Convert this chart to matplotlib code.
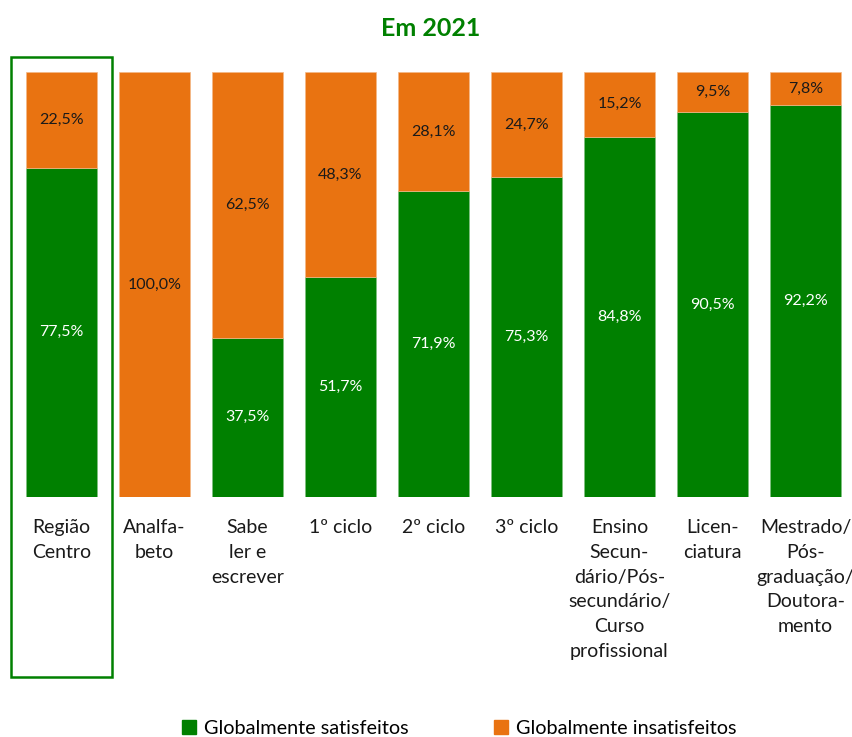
import matplotlib.pyplot as plt
from matplotlib.patches import Rectangle, Patch

plt.rcParams['font.family'] = ['Lato', 'DejaVu Sans']

categorias = ['Região\nCentro', 'Analfa-\nbeto', 'Sabe\nler e\nescrever', '1º ciclo', '2º ciclo',
              '3º ciclo', 'Ensino\nSecun-\ndário/Pós-\nsecundário/\nCurso\nprofissional',
              'Licen-\nciatura', 'Mestrado/\nPós-\ngraduação/\nDoutora-\nmento']
satisfeitos = [77.5, 0.0, 37.5, 51.7, 71.9, 75.3, 84.8, 90.5, 92.2]
insatisfeitos = [22.5, 100.0, 62.5, 48.3, 28.1, 24.7, 15.2, 9.5, 7.8]

verde = '#008000'
laranja = '#E97311'

fig = plt.figure(figsize=(8.53, 7.37), dpi=100)
ax = fig.add_axes([15 / 853, (737 - 497) / 737, 837 / 853, 425 / 737])

x = list(range(len(categorias)))
ax.bar(x, satisfeitos, width=0.76, color=verde, edgecolor='#7fbf7f', linewidth=0.5)
ax.bar(x, insatisfeitos, width=0.76, bottom=satisfeitos, color=laranja,
       edgecolor='#f4b888', linewidth=0.5)

def fmt(v):
    return f'{v:.1f}%'.replace('.', ',')

for i in x:
    if satisfeitos[i] > 0:
        ax.text(i, satisfeitos[i] / 2, fmt(satisfeitos[i]), ha='center', va='center',
                color='white', fontsize=11.5)
    ax.text(i, satisfeitos[i] + insatisfeitos[i] / 2, fmt(insatisfeitos[i]), ha='center',
            va='center', color='#1a1a1a', fontsize=11.5)

ax.set_xlim(-0.5, len(categorias) - 0.5)
ax.set_ylim(0, 100)
ax.set_xticks(x)
ax.set_xticklabels(categorias, fontsize=14, linespacing=1.55, va='top', color='#1a1a1a')
ax.tick_params(axis='x', length=0, pad=16)
ax.set_yticks([])
for s in ax.spines.values():
    s.set_visible(False)

fig.text(0.505, 1 - 28 / 737, 'Em 2021', ha='center', va='center', fontsize=18,
         fontweight='bold', color=verde)

fig.patches.append(Rectangle((11 / 853, (737 - 677) / 737), 101 / 853, 620 / 737,
                             transform=fig.transFigure, fill=False, edgecolor=verde,
                             linewidth=1.8))

handles = [Patch(color=verde, label='Globalmente satisfeitos'),
           Patch(color=laranja, label='Globalmente insatisfeitos')]
fig.legend(handles=handles, ncol=2, loc='center', bbox_to_anchor=(0.538, 1 - 728 / 737),
           frameon=False, fontsize=14.3, handlelength=0.7, handleheight=0.7,
           handletextpad=0.4, columnspacing=4.3)

fig.savefig('out.png', dpi=100)
